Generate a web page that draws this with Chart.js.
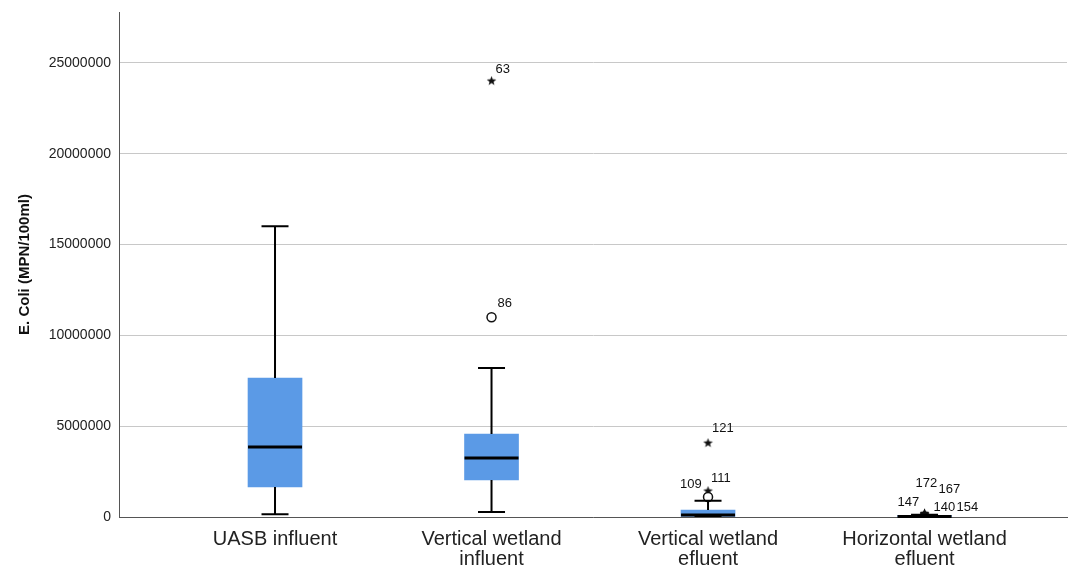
<!DOCTYPE html>
<html>
<head>
<meta charset="utf-8">
<script src="https://cdn.jsdelivr.net/npm/chart.js@4.4.0/dist/chart.umd.min.js"></script>
<style>
  html, body { margin: 0; padding: 0; background: #fff; }
  #wrap { width: 1073px; height: 569px; }
</style>
</head>
<body>
<div id="wrap"><canvas id="box"></canvas></div>
<script>
// categories and box statistics
const categories = [['UASB influent'], ['Vertical wetland', 'influent'], ['Vertical wetland', 'efluent'], ['Horizontal wetland', 'efluent']];
const whiskerLow = [100000, 220000, 0, 0];
const q1 = [1650000, 2040000, 0, 0];
const median = [3850000, 3250000, 110000, 30000];
const q3 = [7650000, 4570000, 380000, 80000];
const whiskerHigh = [16000000, 8200000, 900000, 120000];

// outliers (circles) and extremes (stars)
const circleCats = [2, 3];
const circleValues = [11000000, 1100000];
const circleIds = ['86', '111'];
const starCats = [2, 3, 3, 4, 4, 4, 4, 4];
const starValues = [24000000, 4070000, 1430000, 200000, 180000, 150000, 120000, 120000];
const starIds = ['63', '121', '109', '172', '167', '147', '140', '154'];

const yTicks = [0, 5000000, 10000000, 15000000, 20000000, 25000000];

// label offsets in px (style only)
const circleLabelOffsets = [[6, -14], [3, -19]];
const starLabelOffsets = [[4, -12], [4, -15], [-28, -7], [-9, -30], [14, -24], [-27, -12], [9, -7], [32, -7]];

const FONT = "'Liberation Sans', Arial, sans-serif";
const boxColor = '#5b9ae6';

// small filled star marker
function makeStar() {
    const c = document.createElement('canvas');
    c.width = 11; c.height = 11;
    const g = c.getContext('2d');
    g.fillStyle = '#111';
    g.beginPath();
    for (let i = 0; i < 10; i++) {
        const r = i % 2 === 0 ? 5 : 2.1;
        const a = -Math.PI / 2 + i * Math.PI / 5;
        const px = 5.5 + r * Math.cos(a), py = 5.5 + r * Math.sin(a);
        if (i === 0) g.moveTo(px, py); else g.lineTo(px, py);
    }
    g.closePath();
    g.fill();
    return c;
}

const boxPlot = {
    id: 'boxPlot',
    afterDatasetsDraw(chart) {
        const ctx = chart.ctx;
        const xs = chart.scales.x, ys = chart.scales.y;
        ctx.save();
        ctx.strokeStyle = '#000';
        for (let i = 0; i < categories.length; i++) {
            const x = xs.getPixelForValue(i + 1);
            const half = 27, cap = 13.5;
            ctx.lineWidth = 2;
            ctx.beginPath();
            ctx.moveTo(x, ys.getPixelForValue(q3[i]));
            ctx.lineTo(x, ys.getPixelForValue(whiskerHigh[i]));
            ctx.moveTo(x, ys.getPixelForValue(q1[i]));
            ctx.lineTo(x, ys.getPixelForValue(whiskerLow[i]));
            ctx.moveTo(x - cap, ys.getPixelForValue(whiskerHigh[i]));
            ctx.lineTo(x + cap, ys.getPixelForValue(whiskerHigh[i]));
            ctx.moveTo(x - cap, ys.getPixelForValue(whiskerLow[i]) - 1);
            ctx.lineTo(x + cap, ys.getPixelForValue(whiskerLow[i]) - 1);
            ctx.stroke();
            ctx.lineWidth = 3;
            ctx.beginPath();
            ctx.moveTo(x - half, ys.getPixelForValue(median[i]));
            ctx.lineTo(x + half, ys.getPixelForValue(median[i]));
            ctx.stroke();
        }
        // outlier id labels
        ctx.fillStyle = '#111';
        ctx.font = '13px ' + FONT;
        ctx.textAlign = 'left';
        ctx.textBaseline = 'middle';
        circleIds.forEach((id, i) => {
            const x = xs.getPixelForValue(circleCats[i]), y = ys.getPixelForValue(circleValues[i]);
            ctx.fillText(id, x + circleLabelOffsets[i][0], y + circleLabelOffsets[i][1]);
        });
        starIds.forEach((id, i) => {
            const x = xs.getPixelForValue(starCats[i]), y = ys.getPixelForValue(starValues[i]);
            ctx.fillText(id, x + starLabelOffsets[i][0], y + starLabelOffsets[i][1]);
        });
        ctx.restore();
    }
};

const starImg = makeStar();

new Chart(document.getElementById('box'), {
    type: 'bar',
    data: {
        datasets: [{
            label: 'box',
            data: categories.map((c, i) => ({ x: i + 1, y: [q1[i], q3[i]] })),
            backgroundColor: boxColor,
            borderWidth: 0,
            barThickness: 54
        }, {
            type: 'scatter',
            label: 'outliers',
            data: circleValues.map((v, i) => ({ x: circleCats[i], y: v })),
            pointStyle: 'circle',
            pointRadius: 4.5,
            pointBackgroundColor: '#fff',
            pointBorderColor: '#111',
            pointBorderWidth: 1.5
        }, {
            type: 'scatter',
            label: 'extremes',
            data: starValues.map((v, i) => ({ x: starCats[i], y: v })),
            pointStyle: starImg,
            pointRadius: 5
        }]
    },
    options: {
        responsive: true,
        maintainAspectRatio: false,
        animation: false,
        layout: { padding: { top: 12, right: 0, bottom: 0, left: 0 } },
        plugins: { legend: { display: false }, tooltip: { enabled: false } },
        scales: {
            x: {
                type: 'linear',
                offset: false,
                min: 0.2794,
                max: 4.658,
                grid: { display: false, offset: false },
                border: { display: true, color: '#555', width: 1 },
                afterBuildTicks: s => { s.ticks = [1, 2, 3, 4].map(v => ({ value: v })); },
                afterFit: s => { s.height = 52; s.paddingLeft = 0; s.paddingRight = 0; },
                ticks: {
                    autoSkip: false,
                    maxRotation: 0,
                    padding: 4,
                    color: '#222',
                    font: { family: FONT, size: 20, lineHeight: 1 },
                    callback: v => categories[v - 1]
                }
            },
            y: {
                min: 0,
                max: 27800000,
                afterBuildTicks: s => { s.ticks = yTicks.map(v => ({ value: v })); },
                afterFit: s => { s.width = 119; s.paddingTop = 0; s.paddingBottom = 0; },
                grid: { color: '#c8c8c8', lineWidth: 1, drawTicks: false },
                border: { display: true, color: '#555', width: 1 },
                ticks: {
                    padding: 8,
                    color: '#222',
                    font: { family: FONT, size: 14 },
                    callback: v => String(v)
                },
                title: {
                    display: true,
                    text: 'E. Coli (MPN/100ml)',
                    color: '#111',
                    padding: { top: 16, bottom: 0 },
                    font: { family: FONT, size: 15, weight: 'bold' }
                }
            }
        }
    },
    plugins: [boxPlot]
});
</script>
</body>
</html>
